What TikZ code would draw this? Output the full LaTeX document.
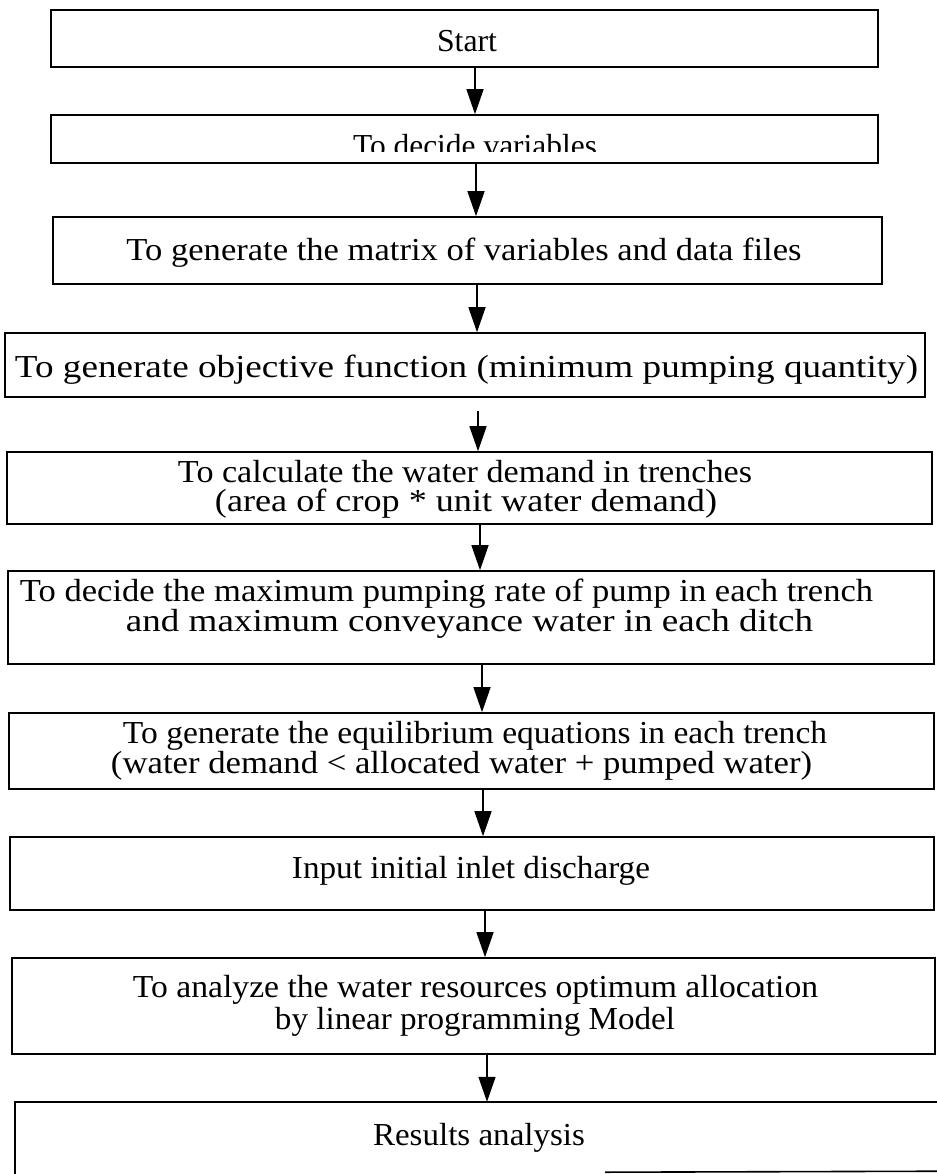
\documentclass[tikz,border=0pt]{standalone}
\usepackage{fontspec}
\usepackage{graphicx}
\setmainfont{Liberation Serif}
\usetikzlibrary{arrows.meta}
\newcommand\fitw[2]{\resizebox{#1}{\height}{#2}}
\begin{document}
\begin{tikzpicture}[x=1pt,y=-1pt,
  flow/.style={draw=black, line width=1.6pt, inner sep=0pt},
  txt/.style={font=\fontsize{32}{28}\selectfont, inner sep=0pt, anchor=base},
  arr/.style={line width=1.4pt, -{Triangle[width=17pt,length=25pt]}}]
\useasboundingbox[fill=white] (0,0) rectangle (936,1174);

\node[flow, minimum width=827pt, minimum height=57pt] (b1) at (464.5,38.5) {};
\node[flow, minimum width=827pt, minimum height=48pt] (b2) at (464.5,139) {};
\node[flow, minimum width=829pt, minimum height=67pt] (b3) at (467.5,250.5) {};
\node[flow, minimum width=920pt, minimum height=64pt] (b4) at (465,365) {};
\node[flow, minimum width=925pt, minimum height=72pt] (b5) at (469.5,488) {};
\node[flow, minimum width=926pt, minimum height=93pt] (b6) at (471,617.5) {};
\node[flow, minimum width=925pt, minimum height=76pt] (b7) at (471.5,751) {};
\node[flow, minimum width=924pt, minimum height=73pt] (b8) at (472,873.5) {};
\node[flow, minimum width=923pt, minimum height=96pt] (b9) at (473.5,1006) {};
\node[minimum width=930pt, minimum height=76pt, inner sep=0pt] (b10) at (480,1140) {};
\draw[line width=1.6pt] ([yshift=2pt]b10.south west) -- (b10.north west) -- (b10.north east);
\draw[line width=1.6pt] ([xshift=125pt,yshift=6pt]b10.south) -- ([yshift=7pt]b10.south east);

\node[txt] (t1) at (467,52) {\fitw{60pt}{Start}};
\begin{scope}
  \clip (0,100) rectangle (936,152);
  \node[txt] (t2) at (475,157) {\fitw{244pt}{To decide variables}};
\end{scope}
\node[txt] (t3) at (464,260) {\fitw{675pt}{To generate the matrix of variables and data files}};
\node[txt] (t4) at (466.5,377) {\fitw{903pt}{To generate objective function (minimum pumping quantity)}};
\node[txt] (t5a) at (465,482) {\fitw{574pt}{To calculate the water demand in trenches}};
\node[txt] (t5b) at (466,511) {\fitw{502pt}{(area of crop * unit water demand)}};
\node[txt] (t6a) at (446.5,601) {\fitw{853pt}{To decide the maximum pumping rate of pump in each trench}};
\node[txt] (t6b) at (469.5,631) {\fitw{687pt}{and maximum conveyance water in each ditch}};
\node[txt] (t7a) at (475,743) {\fitw{704pt}{To generate the equilibrium equations in each trench}};
\node[txt] (t7b) at (461.5,773) {\fitw{701pt}{(water demand < allocated water + pumped water)}};
\node[txt] (t8) at (471,878) {\fitw{358pt}{Input initial inlet discharge}};
\node[txt] (t9a) at (475.5,997) {\fitw{685pt}{To analyze the water resources optimum allocation}};
\node[txt] (t9b) at (475,1029) {\fitw{400pt}{by linear programming Model}};
\node[txt] (t10) at (479,1145) {\fitw{212pt}{Results analysis}};

\draw[arr] ([xshift=10.5pt]b1.south) -- ([xshift=10.5pt]b2.north);
\draw[arr] ([xshift=11.5pt]b2.south) -- ([xshift=8.5pt]b3.north);
\draw[arr] ([xshift=9.5pt]b3.south) -- ([xshift=12pt]b4.north);
\draw[arr] ([xshift=13pt,yshift=-13pt]b4.south) -- ([xshift=8.5pt]b5.north);
\draw[arr] ([xshift=10.5pt]b5.south) -- ([xshift=9pt]b6.north);
\draw[arr] ([xshift=11pt]b6.south) -- ([xshift=10.5pt]b7.north);
\draw[arr] ([xshift=11.5pt]b7.south) -- ([xshift=11pt]b8.north);
\draw[arr] ([xshift=13pt]b8.south) -- ([xshift=11.5pt]b9.north);
\draw[arr] ([xshift=13.5pt]b9.south) -- ([xshift=7pt]b10.north);
\end{tikzpicture}
\end{document}
